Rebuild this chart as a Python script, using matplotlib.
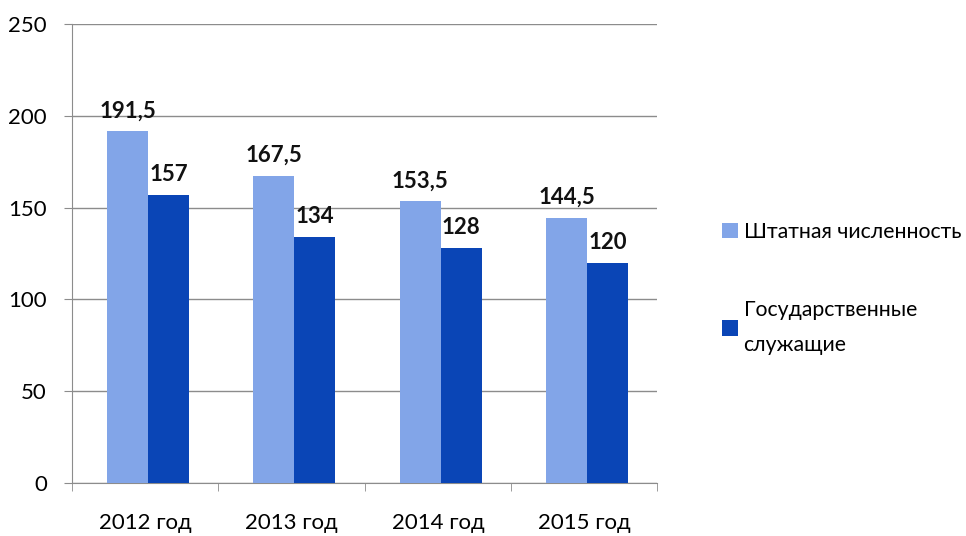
import matplotlib.pyplot as plt
import numpy as np

years = ['2012 год', '2013 год', '2014 год', '2015 год']
staff = [191.5, 167.5, 153.5, 144.5]
civil = [157, 134, 128, 120]
series_names = ['Штатная численность', 'Государственные\nслужащие']


def fmt(v):
    return ('%g' % v).replace('.', ',')


def main():
    plt.rcParams['font.family'] = ['Lato', 'DejaVu Sans']
    fig = plt.figure(figsize=(9.66, 5.36), dpi=100)
    ax = fig.add_axes([0.0745, 0.099, 0.606, 0.856])

    x = np.arange(len(years))
    w = 0.28
    b1 = ax.bar(x - w / 2 + 0.02, staff, w, color='#82a5e8', label=series_names[0], zorder=3)
    b2 = ax.bar(x + w / 2 + 0.02, civil, w, color='#0a45b6', label=series_names[1], zorder=3)

    for bars, vals in ((b1, staff), (b2, civil)):
        for r, v in zip(bars, vals):
            ax.annotate(fmt(v), (r.get_x() + r.get_width() / 2, v), xytext=(0, 7),
                        textcoords='offset points', ha='center', va='bottom',
                        fontsize=16, fontweight='bold', color='#111111')

    ax.set_xlim(-0.5, len(years) - 0.5)
    ax.set_ylim(0, 250)
    ax.set_yticks(range(0, 251, 50))
    ax.yaxis.grid(True, color='#8c8c8c', linewidth=1, zorder=0)
    ax.set_xticks(x)
    ax.set_xticklabels(years)
    ax.set_xticks(np.arange(-0.5, len(years)), minor=True)
    ax.tick_params(axis='x', which='major', length=0, pad=22, labelsize=16)
    ax.tick_params(axis='x', which='minor', length=6, color='#8c8c8c', direction='out')
    ax.tick_params(axis='y', length=6, color='#8c8c8c', labelsize=16, pad=12)
    for s in ('top', 'right'):
        ax.spines[s].set_visible(False)
    for s in ('left', 'bottom'):
        ax.spines[s].set_color('#8c8c8c')

    leg = fig.legend(handles=[b1, b2], loc='center left', bbox_to_anchor=(0.728, 0.462),
                     frameon=False, fontsize=15.3, handlelength=0.75, handleheight=0.75,
                     handletextpad=0.25, labelspacing=2.75)
    for t in leg.get_texts():
        t.set_linespacing(1.9)

    fig.savefig('out.png', dpi=100)


if __name__ == '__main__':
    main()
